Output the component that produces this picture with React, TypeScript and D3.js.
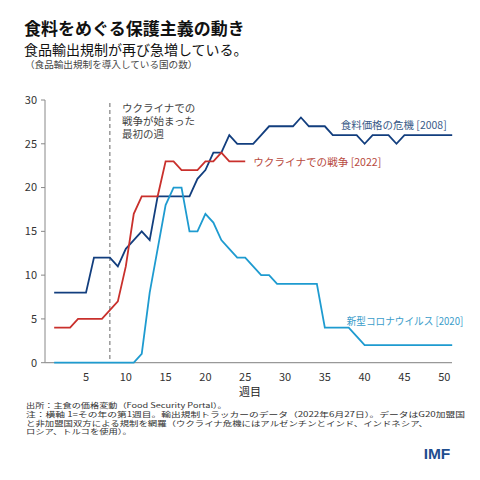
import React from "react";
import * as d3 from "d3";

// Weeks 1..51 on the x axis
const weeks = d3.range(1, 52);

// Food price crisis [2008]
const crisis2008 = [
  8, 8, 8, 8, 8, 12, 12, 12, 11, 13, 14, 15, 14, 19, 19, 19, 19, 19, 21, 22,
  24, 24, 26, 25, 25, 25, 26, 27, 27, 27, 27, 28, 27, 27, 27, 26, 26, 26, 26, 25,
  26, 26, 26, 25, 26, 26, 26, 26, 26, 26, 26,
];

// War in Ukraine [2022] (to week 25)
const war2022 = [
  4, 4, 4, 5, 5, 5, 5, 6, 7, 11, 17, 19, 19, 19, 23, 23, 22, 22, 22, 23, 23, 24,
  23, 23, 23,
];

// COVID-19 [2020]
const covid2020 = [
  0, 0, 0, 0, 0, 0, 0, 0, 0, 0, 0, 1, 8, 13, 18, 20, 20, 15, 15, 17, 16, 14, 13,
  12, 12, 11, 10, 10, 9, 9, 9, 9, 9, 9, 4, 4, 4, 4, 3, 2, 2, 2, 2, 2, 2, 2, 2, 2,
  2, 2, 2,
];

const yTicks = [0, 5, 10, 15, 20, 25, 30];
const xTicks = [5, 10, 15, 20, 25, 30, 35, 40, 45, 50];

const notes = [
  "出所：主食の価格変動（Food Security Portal）。",
  "注：横軸 1=その年の第1週目。輸出規制トラッカーのデータ（2022年6月27日）。データはG20加盟国",
  "と非加盟国双方による規制を網羅（ウクライナ危機にはアルゼンチンとインド、インドネシア、",
  "ロシア、トルコを使用）。",
];

const FONT = "'Noto Sans CJK JP', 'Noto Sans', sans-serif";

export default function App() {
  const x = d3.scaleLinear().domain([0, 51]).range([46.2, 452.2]);
  const y = d3.scaleLinear().domain([0, 30]).range([362.7, 100]);

  const line = d3
    .line<number>()
    .x((_, i) => x(weeks[i]))
    .y((d) => y(d));

  const series = [
    { data: crisis2008, color: "#123e7e" },
    { data: war2022, color: "#c9302c" },
    { data: covid2020, color: "#1e9bd0" },
  ];

  return (
    <svg
      width={480}
      height={480}
      style={{ position: "absolute", left: 0, top: 0, background: "#fff" }}
      fontFamily={FONT}
    >
      {/* titles */}
      <text x={24} y={35} fontSize={17} fontWeight="bold" fill="#111">
        食料をめぐる保護主義の動き
      </text>
      <text x={24} y={54.5} fontSize={14} fill="#111">
        食品輸出規制が再び急増している。
      </text>
      <text x={25} y={68} fontSize={9.6} fill="#444">
        （食品輸出規制を導入している国の数）
      </text>

      {/* y axis */}
      <line x1={45} x2={45} y1={y(30)} y2={y(0)} stroke="#888" />
      {yTicks.map((t) => (
        <g key={t}>
          <line x1={41} x2={45} y1={y(t)} y2={y(t)} stroke="#888" />
          <text x={37} y={y(t)} dy="0.35em" textAnchor="end" fontSize={11} fill="#333">
            {t}
          </text>
        </g>
      ))}

      {/* x axis */}
      <line x1={45} x2={452} y1={y(0)} y2={y(0)} stroke="#999" strokeWidth={1.2} />
      {xTicks.map((t) => (
        <text key={t} x={x(t)} y={381} textAnchor="middle" fontSize={11} fill="#333">
          {t}
        </text>
      ))}
      <text x={250} y={396} textAnchor="middle" fontSize={11} fill="#222">
        週目
      </text>

      {/* first week of the war */}
      <line
        x1={x(8)}
        x2={x(8)}
        y1={103}
        y2={y(0)}
        stroke="#666"
        strokeDasharray="4,3"
      />
      <g fontSize={10.5} fill="#444">
        <text x={122} y={112}>ウクライナでの</text>
        <text x={122} y={125}>戦争が始まった</text>
        <text x={122} y={137.5}>最初の週</text>
      </g>

      {/* series */}
      {series.map((s, i) => (
        <path
          key={i}
          d={line(s.data) ?? ""}
          fill="none"
          stroke={s.color}
          strokeWidth={1.8}
          strokeLinejoin="miter"
        />
      ))}

      {/* labels */}
      <text x={340.7} y={129} fontSize={10.5} fill="#3a5b88" textLength={106} lengthAdjust="spacingAndGlyphs">
        食料価格の危機 [2008]
      </text>
      <text x={253.3} y={165.5} fontSize={10.5} fill="#b84a3e" textLength={128} lengthAdjust="spacingAndGlyphs">
        ウクライナでの戦争 [2022]
      </text>
      <text x={346.7} y={324.5} fontSize={10.5} fill="#3a9dca" textLength={116.6} lengthAdjust="spacingAndGlyphs">
        新型コロナウイルス [2020]
      </text>

      {/* source notes */}
      <g fontSize={7.2} fill="#333">
        <text x={26} y={408} textLength={200.7} lengthAdjust="spacingAndGlyphs">{notes[0]}</text>
        <text x={26} y={416.8} textLength={439} lengthAdjust="spacingAndGlyphs">{notes[1]}</text>
        <text x={26} y={425.5} textLength={402} lengthAdjust="spacingAndGlyphs">{notes[2]}</text>
        <text x={26} y={434.2} textLength={105.7} lengthAdjust="spacingAndGlyphs">{notes[3]}</text>
      </g>

      {/* logo */}
      <text x={437} y={458.5} textAnchor="middle" fontSize={15.5} fontWeight="bold" fill="#1f4e8f" fontFamily="'Liberation Sans', Arial, sans-serif">
        IMF
      </text>
    </svg>
  );
}
